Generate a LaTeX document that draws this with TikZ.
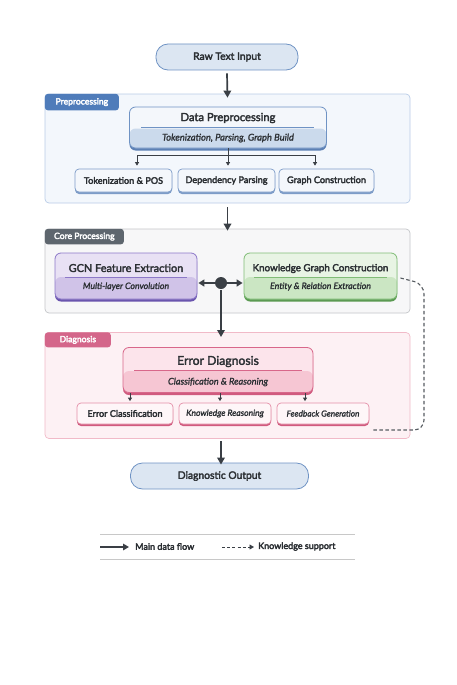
\documentclass[tikz,border=0pt]{standalone}
\usepackage{fontspec}
\setmainfont{Lato}
\usetikzlibrary{arrows.meta,shadows,calc}
\newcommand\heavytext{\special{pdf:literal direct 2 Tr 0.3 w}}
\newcommand\lighttext{\special{pdf:literal direct 2 Tr 0.15 w}}
\definecolor{arrowc}{HTML}{3A3F45}
\definecolor{pillfill}{HTML}{DCE6F2}
\definecolor{pilldraw}{HTML}{6F93C4}
\definecolor{prefill}{HTML}{F3F7FC}
\definecolor{predraw}{HTML}{B9CCE8}
\definecolor{pretab}{HTML}{4F7CBA}
\definecolor{dptop}{HTML}{F4F7FB}
\definecolor{dpbot}{HTML}{CBDAEC}
\definecolor{dpdraw}{HTML}{6F93C4}
\definecolor{dpdark}{HTML}{5C80B4}
\definecolor{corefill}{HTML}{F7F7F8}
\definecolor{coredraw}{HTML}{C4C6C9}
\definecolor{coretab}{HTML}{5E666E}
\definecolor{gcntop}{HTML}{E8E1F4}
\definecolor{gcnbot}{HTML}{D0C3E8}
\definecolor{gcndraw}{HTML}{8C78C8}
\definecolor{gcndark}{HTML}{6A55AE}
\definecolor{kgtop}{HTML}{E8F4E4}
\definecolor{kgbot}{HTML}{CBE6C3}
\definecolor{kgdraw}{HTML}{80BC76}
\definecolor{kgdark}{HTML}{5B9A52}
\definecolor{diagfill}{HTML}{FDF1F4}
\definecolor{diagdraw}{HTML}{F1BAC8}
\definecolor{diagtab}{HTML}{D4668A}
\definecolor{edtop}{HTML}{FCE4EB}
\definecolor{edbot}{HTML}{F6C6D3}
\definecolor{eddraw}{HTML}{D8678A}
\definecolor{eddark}{HTML}{D05A7E}
\definecolor{subpink}{HTML}{FEF6F8}
\definecolor{subpinkdraw}{HTML}{E48FA8}
\definecolor{subblue}{HTML}{F4F7FB}
\definecolor{subbluedraw}{HTML}{7D9CC8}
\definecolor{legline}{HTML}{C8C8C8}
\definecolor{textc}{HTML}{2B2F33}
\tikzset{
  mainarr/.style={draw=arrowc, line width=1.7pt, -{Triangle[length=7pt,width=7.5pt]}},
  smallarr/.style={draw=arrowc, line width=0.8pt, -{Triangle[length=3.5pt,width=4pt]}},
  pill/.style={rounded corners=12pt, fill=pillfill, draw=pilldraw, line width=0.8pt, text=textc, font=\fontsize{10.3}{12}\selectfont\heavytext},
  panel/.style={rounded corners=4pt, line width=0.7pt},
  tabbox/.style={rounded corners=3pt, text=white, font=\fontsize{8.6}{9}\selectfont\heavytext, inner sep=0pt, anchor=north west},
  twotone/.style n args={3}{rounded corners=6pt, draw=#3, line width=0.8pt, fill=#1,
     path picture={\fill[#2] (path picture bounding box.south west) rectangle ([yshift=-1pt]path picture bounding box.east);}},
  darkbottom/.style={drop shadow={shadow xshift=0pt, shadow yshift=-2.5pt, fill=#1, opacity=1}},
  subbox/.style n args={3}{rounded corners=4pt, fill=#1, draw=#2, line width=0.7pt, text=textc,
     drop shadow={shadow xshift=0pt, shadow yshift=-2pt, fill=#3, opacity=1}, font=\fontsize{9.1}{10}\selectfont\heavytext},
  title/.style={text=textc, font=\fontsize{#1}{13}\selectfont\heavytext},
  subtitle/.style={text=textc, font=\itshape\fontsize{#1}{10}\selectfont\lighttext},
  legtext/.style={anchor=west, text=textc, font=\fontsize{9}{10}\selectfont\heavytext, inner sep=0pt},
}
\begin{document}
\begin{tikzpicture}[x=1pt,y=-1pt]
\useasboundingbox (0,0) rectangle (456,685);
\fill[white] (0,0) rectangle (456,685);

% Raw text input
\node[pill, minimum width=142pt, minimum height=26pt] (raw) at (227,57) {Raw Text Input};

% ---------- Preprocessing panel
\node[panel, fill=prefill, draw=predraw, minimum width=365pt, minimum height=109pt] (pre) at (227.5,148.5) {};
\node[tabbox, fill=pretab, minimum width=74pt, minimum height=16.5pt] (pretab) at (pre.north west) {Preprocessing};

\node[twotone={dptop}{dpbot}{dpdraw}, darkbottom=dpdark, minimum width=197pt, minimum height=41pt] (dp) at (228,127.5) {};
\node[title=11.2] (dpt) at (228,118) {Data Preprocessing};
\node[subtitle=9.4] (dps) at (228,138) {Tokenization, Parsing, Graph Build};
\draw[dpdraw, line width=0.6pt] (141,127) -- (314,127);

\node[subbox={subblue}{subbluedraw}{subbluedraw}, minimum width=97pt, minimum height=23pt] (t1) at (123.5,180.5) {Tokenization \& POS};
\node[subbox={subblue}{subbluedraw}{subbluedraw}, minimum width=97pt, minimum height=23pt] (t2) at (226.5,180.5) {Dependency Parsing};
\node[subbox={subblue}{subbluedraw}{subbluedraw}, minimum width=95pt, minimum height=23pt] (t3) at (326.5,180.5) {Graph Construction};

\coordinate (br) at (228,155);
\draw[arrowc, line width=0.8pt] (dp.south) -- (br);
\draw[arrowc, line width=0.8pt] (137,155) -- (315,155);
\draw[smallarr] (137,155) -- ([xshift=13.5pt,yshift=3pt]t1.north);
\draw[smallarr] (br) -- ([xshift=1.5pt,yshift=3pt]t2.north);
\draw[smallarr] (315,155) -- ([xshift=-11.5pt,yshift=3pt]t3.north);

% Raw -> pre
\draw[mainarr] ([yshift=-3pt]raw.south) -- ([yshift=-4pt]pre.north);

% ---------- Core processing panel
\node[panel, fill=corefill, draw=coredraw, minimum width=365pt, minimum height=84pt] (core) at (227.5,271) {};
\node[tabbox, fill=coretab, minimum width=79pt, minimum height=15.5pt] (coretab) at (core.north west) {Core Processing};

\draw[mainarr] ([yshift=-4pt]pre.south) -- ([yshift=-2pt]core.north);

\node[twotone={gcntop}{gcnbot}{gcndraw}, darkbottom=gcndark, minimum width=142pt, minimum height=46pt] (gcn) at (126,276) {};
\node[title=10.9] (gcnt) at (126,268) {GCN Feature Extraction};
\node[subtitle=8.8] (gcns) at (126,286.5) {Multi-layer Convolution};
\draw[gcndraw, line width=0.6pt] (65,277.5) -- (187,277.5);

\node[twotone={kgtop}{kgbot}{kgdraw}, darkbottom=kgdark, minimum width=153pt, minimum height=46pt] (kg) at (320.5,276) {};
\node[title=9.8] (kgt) at (320.5,268.5) {Knowledge Graph Construction};
\node[subtitle=8.8] (kgs) at (320.5,286.5) {Entity \& Relation Extraction};
\draw[kgdraw, line width=0.6pt] (254,277.5) -- (387,277.5);

\node[circle, fill=arrowc, minimum size=12pt, inner sep=0pt] (dot) at (221,283) {};
\draw[mainarr, line width=1.5pt, -{Triangle[length=6pt,width=7pt]}] (dot.west) -- ([xshift=1pt]gcn.east |- dot);
\draw[mainarr, line width=1.5pt, -{Triangle[length=6pt,width=7pt]}] (dot.east) -- ([xshift=-1pt]kg.west |- dot);

% ---------- Diagnosis panel
\node[panel, fill=diagfill, draw=diagdraw, minimum width=365pt, minimum height=106pt] (diag) at (227.5,385.5) {};
\node[tabbox, fill=diagtab, minimum width=66pt, minimum height=15pt] (diagtab) at (diag.north west) {Diagnosis};

\coordinate (dtop) at (221,337);
\draw[mainarr] ([yshift=-1pt]dot.south) -- (dtop);

\node[twotone={edtop}{edbot}{eddraw}, darkbottom=eddark, minimum width=190pt, minimum height=45pt] (ed) at (218,370) {};
\node[title=12.2] (edt) at (218,361.5) {Error Diagnosis};
\node[subtitle=9.2] (eds) at (218,382) {Classification \& Reasoning};
\draw[eddraw, line width=0.6pt] (134,370) -- (302,370);

\node[subbox={subpink}{subpinkdraw}{eddark}, minimum width=96pt, minimum height=21pt] (e1) at (125,413.5) {Error Classification};
\node[subbox={subpink}{subpinkdraw}{eddark}, minimum width=92pt, minimum height=21pt, font=\itshape\fontsize{8.6}{10}\selectfont\lighttext] (e2) at (225,413.5) {Knowledge Reasoning};
\node[subbox={subpink}{subpinkdraw}{eddark}, minimum width=92pt, minimum height=21pt, font=\itshape\fontsize{8.3}{10}\selectfont\lighttext] (e3) at (323,413.5) {Feedback Generation};

\draw[smallarr] (130,393) -- ([xshift=5pt,yshift=1.5pt]e1.north);
\draw[smallarr] (220,393) -- ([xshift=-5pt,yshift=1.5pt]e2.north);
\draw[smallarr] (305,393) -- ([xshift=-18pt,yshift=1.5pt]e3.north);

% dashed knowledge support
\draw[arrowc!85, line width=1.1pt, dash pattern=on 3.5pt off 2.5pt, rounded corners=10pt]
  ([xshift=3pt,yshift=-2pt]kg.east) -- (424,284) -- (424,430) -- ([xshift=2pt]e3.east |- 0,430);

% ---------- Output
\node[pill, minimum width=178pt, minimum height=26pt] (out) at (219.5,476) {Diagnostic Output};
\draw[mainarr] (221,441) -- ([yshift=-2pt]out.north -| 221,0);

% ---------- Legend
\coordinate (l1a) at (100,534);
\coordinate (l1b) at (355,534);
\coordinate (l2a) at (100,559);
\coordinate (l2b) at (355,559);
\draw[legline, line width=0.7pt] (l1a) -- (l1b);
\draw[legline, line width=0.7pt] (l2a) -- (l2b);
\coordinate (m1) at (100,547);
\coordinate (m2) at (129,547);
\draw[mainarr, line width=1.6pt, -{Triangle[length=6pt,width=6.5pt]}] (m1) -- (m2);
\node[legtext] (lt1) at (135,546.5) {Main data flow};
\coordinate (k1) at (222,547);
\coordinate (k2) at (254,547);
\draw[arrowc, line width=0.9pt, dash pattern=on 3pt off 2.2pt, -{Triangle[length=4.5pt,width=5pt]}] (k1) -- (k2);
\node[legtext] (lt2) at (258,546.5) {Knowledge support};
\end{tikzpicture}
\end{document}
